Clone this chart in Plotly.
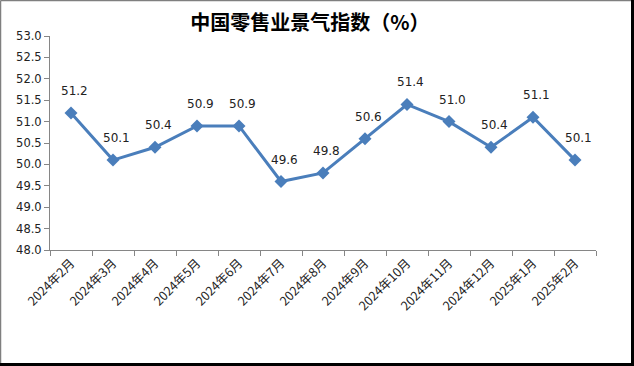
import plotly.graph_objects as go

categories = ["2024年2月", "2024年3月", "2024年4月", "2024年5月", "2024年6月", "2024年7月",
              "2024年8月", "2024年9月", "2024年10月", "2024年11月", "2024年12月", "2025年1月", "2025年2月"]
values = [51.2, 50.1, 50.4, 50.9, 50.9, 49.6, 49.8, 50.6, 51.4, 51.0, 50.4, 51.1, 50.1]
labels = [f"{v:.1f}" for v in values]
y_ticks = [48.0, 48.5, 49.0, 49.5, 50.0, 50.5, 51.0, 51.5, 52.0, 52.5, 53.0]

W, H = 634, 366
L, R, T, B = 50, 38, 36, 116
pw, ph = W - L - R, H - T - B

def px(x):
    return (x - L) / pw

def py(y):
    return (H - B - y) / ph

fig = go.Figure()
fig.add_trace(go.Scatter(
    x=categories, y=values, mode="lines+markers",
    line=dict(color="#4a7ebb", width=3),
    marker=dict(symbol="diamond", size=10, color="#4a7ebb"),
    cliponaxis=False,
))

for c, v, t in zip(categories, values, labels):
    fig.add_annotation(x=c, y=v, text=t, showarrow=False, yshift=22, xshift=3,
                       font=dict(family="DejaVu Sans", size=12, color="#222222"))

fig.update_layout(
    width=W, height=H,
    margin=dict(l=L, r=R, t=T, b=B, autoexpand=False),
    paper_bgcolor="white", plot_bgcolor="white",
    showlegend=False,
    title=dict(text="<b>中国零售业景气指数（%）</b>", x=310 / W, xanchor="center",
               y=1 - 23 / H, yanchor="middle",
               font=dict(family="Noto Sans CJK SC", size=20, color="#000000")),
    xaxis=dict(
        type="category", tickson="boundaries", ticks="outside", ticklen=5,
        range=[-0.5, len(categories) - 0.5],
        tickcolor="#868686", showline=True, linecolor="#868686", linewidth=1,
        showgrid=False, tickangle=-45, automargin=False,
        tickfont=dict(family="Noto Sans CJK SC", size=12.5, color="#222222"),
    ),
    yaxis=dict(
        range=[48.0, 53.0], tickvals=y_ticks, ticktext=[f"{t:.1f}" for t in y_ticks],
        ticks="outside", ticklen=5, tickcolor="#868686", automargin=False,
        showline=True, linecolor="#868686", linewidth=1, showgrid=False, zeroline=False,
        tickfont=dict(family="DejaVu Sans", size=11.5, color="#222222"),
    ),
    shapes=[
        dict(type="line", xref="paper", yref="paper", x0=px(0.5), x1=px(0.5), y0=py(0.5), y1=py(H - 3),
             line=dict(color="#7f7f7f", width=1.5)),
        dict(type="line", xref="paper", yref="paper", x0=px(0.5), x1=px(W - 3), y0=py(0.5), y1=py(0.5),
             line=dict(color="#7f7f7f", width=1.5)),
        dict(type="line", xref="paper", yref="paper", x0=px(0), x1=px(W), y0=py(H - 1.5), y1=py(H - 1.5),
             line=dict(color="#000000", width=3)),
        dict(type="line", xref="paper", yref="paper", x0=px(W - 1.5), x1=px(W - 1.5), y0=py(0), y1=py(H),
             line=dict(color="#000000", width=3)),
    ],
)

fig.write_html("out.html", config={"displayModeBar": False},
               post_script="document.body.style.margin='0';document.body.style.overflow='hidden';")
